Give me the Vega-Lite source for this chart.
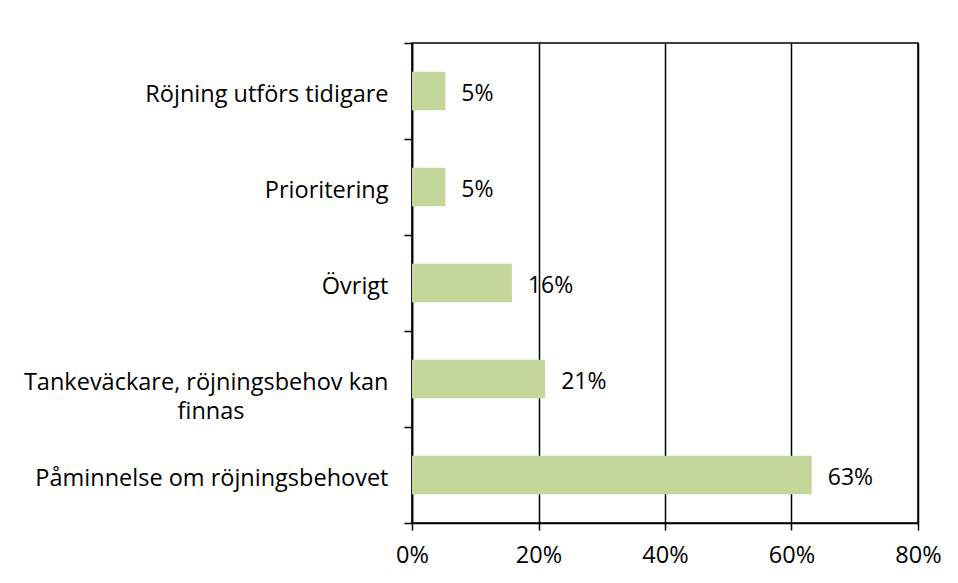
{
  "$schema": "https://vega.github.io/schema/vega-lite/v6.json",
  "width": 506,
  "height": 480,
  "autosize": {"type": "none"},
  "padding": {"left": 412, "top": 43, "right": 40, "bottom": 60},
  "background": "white",
  "config": {
    "font": "Open Sans",
    "view": {"stroke": "black", "strokeWidth": 1.5},
    "axis": {"labelFont": "Open Sans", "labelFontSize": 23.5, "labelColor": "#000000", "domainColor": "#000000", "tickColor": "#000000", "gridColor": "#000000", "domainWidth": 1.5, "tickWidth": 1.5, "gridWidth": 1.5}
  },
  "data": {
    "values": [
      {"category": "Röjning utförs tidigare", "value": 0.0526},
      {"category": "Prioritering", "value": 0.0526},
      {"category": "Övrigt", "value": 0.158},
      {"category": ["Tankeväckare, röjningsbehov kan", "finnas\u2800\u2800\u2800\u2800\u2800\u2800\u2800\u2800"], "value": 0.2105},
      {"category": "Påminnelse om röjningsbehovet", "value": 0.632}
    ]
  },
  "encoding": {
    "y": {
      "field": "category",
      "type": "nominal",
      "sort": null,
      "title": null,
      "scale": {"paddingInner": 0, "paddingOuter": 0},
      "axis": {"tickBand": "extent", "tickSize": 8, "labelPadding": 16, "labelLimit": 420, "labelLineHeight": 29, "labelOffset": 3}
    },
    "x": {
      "field": "value",
      "type": "quantitative",
      "title": null,
      "scale": {"domain": [0, 0.8], "nice": false},
      "axis": {"values": [0, 0.2, 0.4, 0.6, 0.8], "format": ".0%", "grid": true, "tickSize": 7, "labelPadding": 13, "labelFlush": false, "domain": true}
    }
  },
  "layer": [
    {"mark": {"type": "bar", "color": "#c4d79b", "height": {"band": 0.4}}},
    {
      "mark": {"type": "text", "align": "left", "baseline": "middle", "dx": 16, "dy": 3, "fontSize": 23, "font": "Open Sans", "color": "#000000"},
      "encoding": {"text": {"field": "value", "type": "quantitative", "format": ".0%"}}
    }
  ]
}
